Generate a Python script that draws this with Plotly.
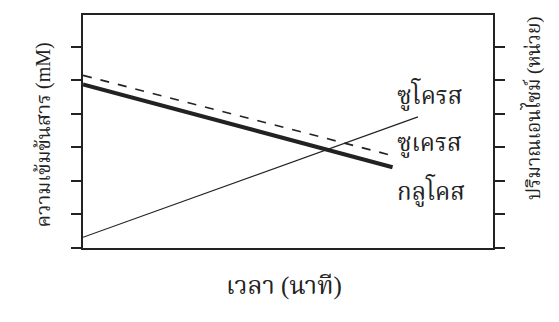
import plotly.graph_objects as go

# values (time in minutes, arbitrary units)
sucrose_t = [0, 7.6]
sucrose_c = [5.15, 2.74]
glucose_t = [0, 7.55]
glucose_c = [4.88, 2.41]
enzyme_t = [0, 8.17]
enzyme_c = [0.32, 3.91]

line_labels = ["ซูโครส", "ซูเครส", "กลูโคส"]
label_y = [4.59, 3.1, 1.72]

tick_vals = [0, 1, 2, 3, 4, 5, 6]

ink = "#222222"
thai = "Liberation Serif, Noto Serif Thai, Noto Sans Thai, serif"

fig = go.Figure()
fig.add_trace(go.Scatter(x=sucrose_t, y=sucrose_c, mode="lines",
                         line=dict(color=ink, width=1.6, dash="dash")))
fig.add_trace(go.Scatter(x=glucose_t, y=glucose_c, mode="lines",
                         line=dict(color=ink, width=4)))
fig.add_trace(go.Scatter(x=enzyme_t, y=enzyme_c, mode="lines",
                         line=dict(color=ink, width=1.2), yaxis="y2"))

for txt, yy in zip(line_labels, label_y):
    fig.add_annotation(x=7.6, y=yy, text=txt, showarrow=False, xanchor="left",
                       font=dict(size=24, color=ink, family=thai))

fig.add_annotation(x=-0.129, y=0.485, xref="paper", yref="paper", text="ความเข้มข้นสาร (mM)",
                   textangle=-90, showarrow=False, font=dict(size=20, color=ink, family=thai))
fig.add_annotation(x=1.13, y=0.6, xref="paper", yref="paper", text="ปริมาณเอนไซม์ (หน่วย)",
                   textangle=-90, showarrow=False, font=dict(size=19, color=ink, family=thai))
fig.add_annotation(x=0.49, y=-0.23, xref="paper", yref="paper", text="เวลา (นาที)",
                   showarrow=False, font=dict(size=25, color=ink, family=thai))

axis_common = dict(range=[0, 6.95], tickvals=tick_vals, ticks="outside", ticklen=10,
                   tickwidth=2, tickcolor=ink, showticklabels=False, showgrid=False,
                   zeroline=False, showline=True, linecolor=ink, linewidth=2)

# the page body adds an 8px margin, so the figure is shrunk by 8px
fig.update_layout(
    width=551, height=314,
    margin=dict(l=75, r=66, t=5, b=74),
    paper_bgcolor="white", plot_bgcolor="white",
    showlegend=False,
    xaxis=dict(range=[0, 10], showticklabels=False, ticks="", showgrid=False,
               zeroline=False, showline=True, mirror=True, linecolor=ink, linewidth=2),
    yaxis=axis_common,
    yaxis2=dict(axis_common, overlaying="y", side="right"),
)

fig.write_html("out.html")
